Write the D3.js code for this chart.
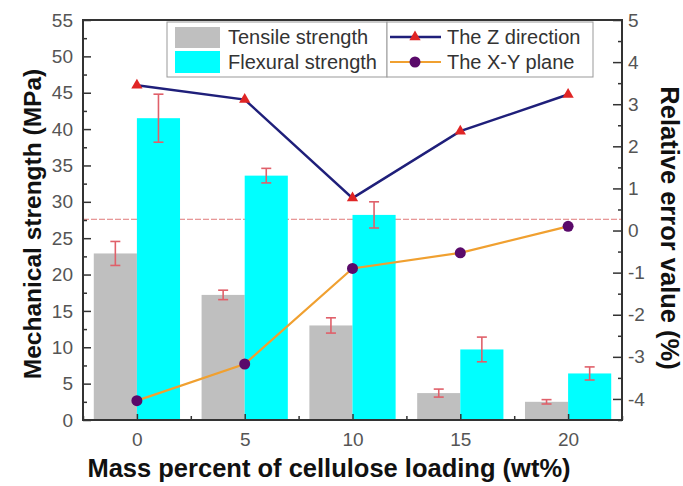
<!DOCTYPE html>
<html>
<head>
<meta charset="utf-8">
<script src="https://cdn.jsdelivr.net/npm/d3@7"></script>
<style>
  html, body { margin: 0; padding: 0; background: #fff; }
  svg { display: block; font-family: "Liberation Sans", Arial, sans-serif; }
</style>
</head>
<body>
<svg id="chart" width="683" height="486"></svg>
<script>
// ---- data ----
const categories = [0, 5, 10, 15, 20];
const tensile = [22.9, 17.2, 13.0, 3.7, 2.5];
const tensileErr = [1.65, 0.65, 1.05, 0.55, 0.3];
const flexural = [41.5, 33.6, 28.2, 9.7, 6.4];
const flexuralErr = [3.3, 1.0, 1.8, 1.7, 0.9];
const zDirection = [3.45, 3.11, 0.77, 2.36, 3.23];
const xyPlane = [-4.04, -3.17, -0.90, -0.53, 0.10];
const leftTicks = [0, 5, 10, 15, 20, 25, 30, 35, 40, 45, 50, 55];
const rightTicks = [-4, -3, -2, -1, 0, 1, 2, 3, 4, 5];
const xTicks = [0, 5, 10, 15, 20];
const refLineValue = 27.6;
const barWidthUnits = 2;

// ---- layout ----
const L = 83, R = 622, T = 20, B = 420;
const svg = d3.select("#chart");

const x = d3.scaleLinear().domain([-2.5, 22.5]).range([L, R]);
const yL = d3.scaleLinear().domain([0, 55]).range([B, T]);
const yR = d3.scaleLinear().domain([-4.5, 5]).range([B, T]);
const bw = x(barWidthUnits) - x(0);

// reference line (behind bars)
svg.append("line")
  .attr("x1", L).attr("x2", R)
  .attr("y1", yL(refLineValue)).attr("y2", yL(refLineValue))
  .attr("stroke", "#e07a7a").attr("stroke-width", 1)
  .attr("stroke-dasharray", "6,2");

// bars
const g = svg.append("g");
g.selectAll("rect.tens").data(categories).join("rect")
  .attr("class", "tens")
  .attr("x", d => x(d) - bw).attr("width", bw)
  .attr("y", (d, i) => yL(tensile[i]))
  .attr("height", (d, i) => yL(0) - yL(tensile[i]))
  .attr("fill", "#bfbfbf");
g.selectAll("rect.flex").data(categories).join("rect")
  .attr("class", "flex")
  .attr("x", d => x(d)).attr("width", bw)
  .attr("y", (d, i) => yL(flexural[i]))
  .attr("height", (d, i) => yL(0) - yL(flexural[i]))
  .attr("fill", "#00ffff");

// error bars
function errBars(vals, errs, off) {
  const eg = svg.append("g").attr("stroke", "#e0606a").attr("stroke-width", 1.6);
  categories.forEach((c, i) => {
    const cx = x(c) + off;
    const y1 = yL(vals[i] + errs[i]), y2 = yL(vals[i] - errs[i]);
    eg.append("line").attr("x1", cx).attr("x2", cx).attr("y1", y1).attr("y2", y2);
    eg.append("line").attr("x1", cx - 5).attr("x2", cx + 5).attr("y1", y1).attr("y2", y1);
    eg.append("line").attr("x1", cx - 5).attr("x2", cx + 5).attr("y1", y2).attr("y2", y2);
  });
}
errBars(tensile, tensileErr, -bw / 2);
errBars(flexural, flexuralErr, bw / 2);

// lines
const lineZ = d3.line().x((d, i) => x(categories[i])).y(d => yR(d));
svg.append("path").datum(zDirection).attr("d", lineZ)
  .attr("fill", "none").attr("stroke", "#1f1f7a").attr("stroke-width", 2.5);
svg.append("path").datum(xyPlane).attr("d", lineZ)
  .attr("fill", "none").attr("stroke", "#f0a030").attr("stroke-width", 2.2);

const tri = d3.symbol().type(d3.symbolTriangle).size(55);
svg.selectAll("path.tri").data(zDirection).join("path")
  .attr("class", "tri")
  .attr("transform", (d, i) => `translate(${x(categories[i])},${yR(d)})`)
  .attr("d", tri).attr("fill", "#e02525");
svg.selectAll("circle.xy").data(xyPlane).join("circle")
  .attr("class", "xy")
  .attr("cx", (d, i) => x(categories[i])).attr("cy", d => yR(d))
  .attr("r", 5.5).attr("fill", "#5a0a6a");

// axes
const tickColor = "#333";
const labelColor = "#555";
function styleAxis(sel) {
  sel.select(".domain").remove();
  sel.selectAll(".tick line").attr("stroke", tickColor).attr("stroke-width", 1.5);
  sel.selectAll(".tick text").attr("fill", labelColor).style("font-size", "19px")
    .style("font-family", "'Liberation Sans', Arial, sans-serif");
}
const minorL = d3.range(2.5, 55, 5);
const minorR = d3.range(-4, 5, 1).map(v => v + 0.5).concat([-4.5]);
const minorX = [-2.5, 2.5, 7.5, 12.5, 17.5, 22.5];

svg.append("g").attr("transform", `translate(${L},0)`)
  .call(d3.axisLeft(yL).tickValues(leftTicks).tickSize(-8).tickPadding(10).tickFormat(d3.format("d")))
  .call(styleAxis);
svg.append("g").attr("transform", `translate(${L},0)`)
  .call(d3.axisLeft(yL).tickValues(minorL).tickSize(-4).tickFormat(""))
  .call(styleAxis);

svg.append("g").attr("transform", `translate(${R},0)`)
  .call(d3.axisRight(yR).tickValues(rightTicks).tickSize(-9).tickPadding(6).tickFormat(d => d < 0 ? "-" + Math.abs(d) : d))
  .call(styleAxis);
svg.append("g").attr("transform", `translate(${R},0)`)
  .call(d3.axisRight(yR).tickValues(minorR).tickSize(-4).tickFormat(""))
  .call(styleAxis);

svg.append("g").attr("transform", `translate(0,${B})`)
  .call(d3.axisBottom(x).tickValues(xTicks).tickSize(-6).tickPadding(13).tickFormat(d3.format("d")))
  .call(styleAxis);
svg.append("g").attr("transform", `translate(0,${B})`)
  .call(d3.axisBottom(x).tickValues(minorX).tickSize(-4).tickFormat(""))
  .call(styleAxis);

// frame
svg.append("rect").attr("x", L).attr("y", T).attr("width", R - L).attr("height", B - T)
  .attr("fill", "none").attr("stroke", "#333").attr("stroke-width", 2);

// legend
const leg = svg.append("g");
const legFont = "20px";
leg.append("rect").attr("x", 167).attr("y", 22).attr("width", 220).attr("height", 55)
  .attr("fill", "#fff").attr("stroke", "#999").attr("stroke-width", 1);
leg.append("rect").attr("x", 387).attr("y", 22).attr("width", 206).attr("height", 55)
  .attr("fill", "#fff").attr("stroke", "#999").attr("stroke-width", 1);
leg.append("rect").attr("x", 175).attr("y", 27).attr("width", 45).attr("height", 21).attr("fill", "#bfbfbf");
leg.append("rect").attr("x", 175).attr("y", 51).attr("width", 45).attr("height", 22).attr("fill", "#00ffff");
const legText = [["Tensile strength", 228, 44], ["Flexural strength", 228, 69],
                 ["The Z direction", 447, 44], ["The X-Y plane", 447, 69]];
legText.forEach(([t, tx, ty]) => {
  leg.append("text").attr("x", tx).attr("y", ty).text(t)
    .attr("fill", "#333").style("font-size", legFont);
});
leg.append("line").attr("x1", 390).attr("x2", 441).attr("y1", 37).attr("y2", 37)
  .attr("stroke", "#1f1f7a").attr("stroke-width", 2.5);
leg.append("path").attr("transform", "translate(415,37)").attr("d", tri).attr("fill", "#e02525");
leg.append("line").attr("x1", 390).attr("x2", 441).attr("y1", 62).attr("y2", 62)
  .attr("stroke", "#f0a030").attr("stroke-width", 2.2);
leg.append("circle").attr("cx", 415).attr("cy", 62).attr("r", 5.5).attr("fill", "#5a0a6a");

// axis titles
svg.append("text").attr("transform", "translate(41,224) rotate(-90)")
  .attr("text-anchor", "middle").style("font-size", "24.5px").style("font-weight", "bold")
  .attr("fill", "#111").text("Mechanical strength (MPa)");
svg.append("text").attr("transform", "translate(661,228) rotate(90)")
  .attr("text-anchor", "middle").style("font-size", "25.5px").style("font-weight", "bold")
  .attr("fill", "#111").text("Relative error value (%)");
svg.append("text").attr("x", 329).attr("y", 477)
  .attr("text-anchor", "middle").style("font-size", "25.5px").style("font-weight", "bold")
  .attr("fill", "#111").text("Mass percent of cellulose loading (wt%)");
</script>
</body>
</html>
